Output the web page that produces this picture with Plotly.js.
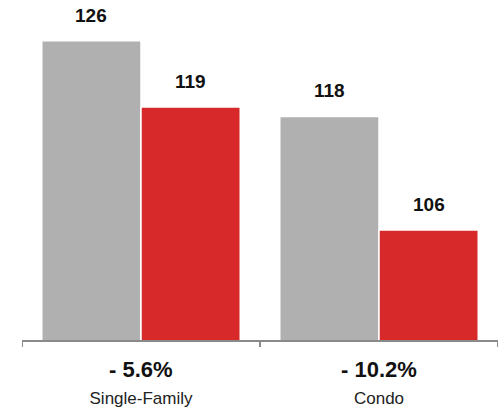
<!DOCTYPE html>
<html>
<head>
<meta charset="utf-8">
<script src="https://cdn.plot.ly/plotly-3.0.1.min.js"></script>
<style>
html,body{margin:0;padding:0;background:#fff;}
#chart{width:503px;height:409px;}
</style>
</head>
<body>
<div id="chart"></div>
<script>
const categories = ["Single-Family", "Condo"];
const previousValues = [126, 118];
const currentValues = [119, 106];
const changeLabels = ["- 5.6%", "- 10.2%"];

const FONT = "Liberation Sans, Arial, Helvetica, sans-serif";

const traces = [
  {
    type: "bar",
    x: categories,
    y: previousValues,
    marker: {color: "#b0b0b0", line: {color: "#ffffff", width: 1.5}},
    hoverinfo: "skip"
  },
  {
    type: "bar",
    x: categories,
    y: currentValues,
    marker: {color: "#d7282a", line: {color: "#ffffff", width: 1.5}},
    hoverinfo: "skip"
  }
];

const BARGAP = 0.166;
const half = (1 - BARGAP) / 4;
const annotations = [];
categories.forEach((c, i) => {
  annotations.push({
    x: i - half, y: previousValues[i], xref: "x", yref: "y",
    text: "<b>" + previousValues[i] + "</b>", showarrow: false,
    yanchor: "bottom", yshift: 13,
    font: {family: FONT, size: 19, color: "#111"}
  });
  annotations.push({
    x: i + half, y: currentValues[i], xref: "x", yref: "y",
    text: "<b>" + currentValues[i] + "</b>", showarrow: false,
    yanchor: "bottom", yshift: 13,
    font: {family: FONT, size: 19, color: "#111"}
  });
  annotations.push({
    x: i, y: 0, xref: "x", yref: "paper",
    text: "<b>" + changeLabels[i] + "</b>", showarrow: false,
    yanchor: "middle", yshift: -29,
    font: {family: FONT, size: 22, color: "#111"}
  });
});

const layout = {
  width: 503, height: 409,
  margin: {l: 22, r: 5, t: 20, b: 68.5},
  paper_bgcolor: "#ffffff",
  plot_bgcolor: "#ffffff",
  barmode: "group",
  bargap: BARGAP,
  bargroupgap: 0,
  showlegend: false,
  xaxis: {
    type: "category",
    showline: true, linecolor: "#8a8a8a", linewidth: 2,
    ticks: "", showgrid: false, zeroline: false,
    tickfont: {family: FONT, size: 17, color: "#222"},
    ticklabelstandoff: 42,
    range: [-0.5, 1.5]
  },
  yaxis: {
    range: [94.36, 128.2],
    visible: false, showgrid: false, zeroline: false
  },
  shapes: [0, 1, 2].map(k => ({
    type: "line", xref: "x", yref: "paper", ysizemode: "pixel", yanchor: 0,
    x0: k - 0.5, x1: k - 0.5, y0: 0, y1: -7,
    line: {color: "#8a8a8a", width: 2}
  })),
  annotations: annotations
};

Plotly.newPlot("chart", traces, layout, {displayModeBar: false, staticPlot: true});
</script>
</body>
</html>
